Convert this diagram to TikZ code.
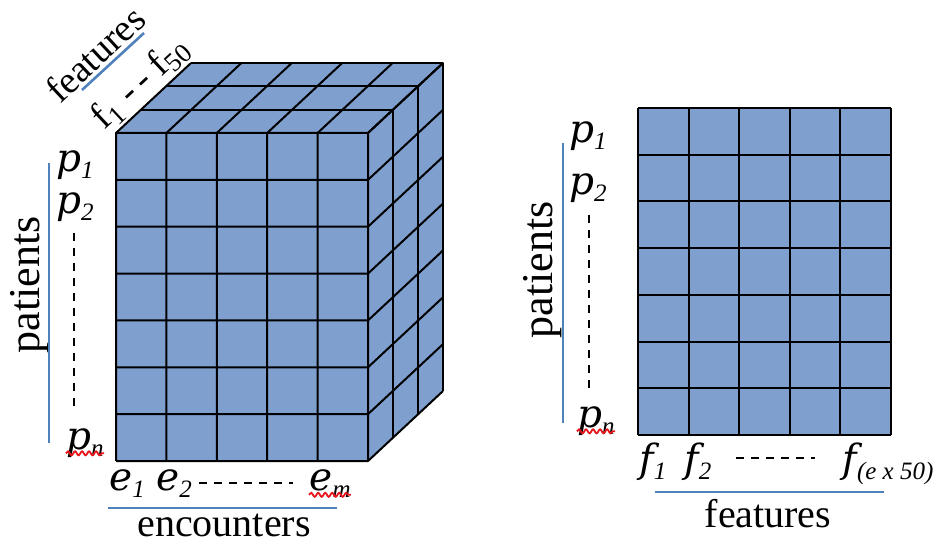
\documentclass[tikz,border=0pt]{standalone}
\usepackage{fontspec}
\setmainfont{Liberation Serif}
\newfontfamily\labfont{DejaVu Serif}
\usetikzlibrary{decorations.pathmorphing}
\definecolor{cellblue}{HTML}{7FA0CF}
\definecolor{lineblue}{HTML}{4F81BD}
\definecolor{squigred}{HTML}{E8141B}
\newcommand{\vlab}[2]{{\labfont\itshape #1}\raisebox{-0.4ex}{\fontsize{12.5}{12.5}\selectfont\itshape #2}}
\tikzset{
  cellfill/.style={fill=cellblue},
  gridline/.style={draw=black,line width=1pt,line join=round},
  axisline/.style={draw=lineblue,line width=1.3pt},
  word/.style={font=\fontsize{20}{24}\selectfont,inner sep=0pt},
  slantword/.style={font=\fontsize{19}{22}\selectfont,inner sep=0pt,rotate=43},
  tallword/.style={font=\fontsize{22}{26}\selectfont,inner sep=0pt},
  vlbl/.style={font=\fontsize{19.5}{22}\selectfont,inner sep=0pt},
  gapline/.style={draw=black,line width=0.9pt,dash pattern=on 4pt off 3.5pt},
  squig/.style={draw=squigred,line width=0.9pt,decorate,decoration={snake,amplitude=1pt,segment length=3.5pt}},
}

\begin{document}
\begin{tikzpicture}[x=0.5pt,y=-0.5pt]
  \useasboundingbox (0,0) rectangle (942,544);

  % cube: 5 encounters wide, 7 patients high, 3 features deep
  \fill[cellfill] (116,133) rectangle (368,461);
  \fill[cellfill] (116,133) -- (191,63) -- (443,63) -- (443,391) -- (368,461) -- (368,133) -- cycle;
  \foreach \i in {0,...,5}
    \draw[gridline] (116+\i*50.4,461) -- (116+\i*50.4,133) -- ++(75,-70);
  \foreach \j in {0,...,7}
    \draw[gridline] (116,133+\j*46.86) -- (368,133+\j*46.86) -- ++(75,-70);
  \foreach \k in {1,2,3}
    \draw[gridline] (116+\k*25,133-\k*23.33) -- ++(252,0) -- ++(0,328);

  % flat matrix
  \fill[cellfill] (638,108) rectangle (891,435);
  \foreach \i in {0,...,5}
    \draw[gridline] (638+\i*50.6,108) -- (638+\i*50.6,435);
  \foreach \j in {0,...,7}
    \draw[gridline] (638,108+\j*46.71) -- (891,108+\j*46.71);

  % cube labels
  \node[slantword] (featTop) at (95,54) {features};
  \coordinate (ftA) at (82,90);
  \coordinate (ftB) at (144,33);
  \draw[axisline] (ftA) -- (ftB);
  \node[slantword] (fRange) at (141,83) {f\textsubscript{1} -\,- f\textsubscript{50}};

  \node[tallword,rotate=90] (patL) at (30,285) {patients};
  \coordinate (paA) at (49,163);
  \coordinate (paB) at (49,443);
  \draw[axisline] (paA) -- (paB);
  \node[vlbl] (p1L) at (75,165) {\vlab{p}{1}};
  \node[vlbl] (p2L) at (75,207) {\vlab{p}{2}};
  \node[vlbl] (pnL) at (85,443) {\vlab{p}{n}};
  \coordinate (dTopL) at (74,233);
  \coordinate (dBotL) at (74,410);
  \draw[gapline] (dTopL) -- (dBotL);
  \draw[squig] ([yshift=-2pt]pnL.base west) -- ([yshift=-2pt]pnL.base east);

  \node[vlbl] (e1) at (127,484) {\vlab{e}{1}};
  \node[vlbl] (e2) at (174,484) {\vlab{e}{2}};
  \node[vlbl] (em) at (330,484) {\vlab{e}{m}};
  \coordinate (dE1) at (199,483);
  \coordinate (dE2) at (293,483);
  \draw[gapline] (dE1) -- (dE2);
  \draw[squig] ([yshift=-2pt]em.base west) -- ([yshift=-2pt]em.base east);
  \coordinate (enA) at (108,508);
  \coordinate (enB) at (337,508);
  \draw[axisline] (enA) -- (enB);
  \node[word] (enc) at (224,525) {encounters};

  % matrix labels
  \node[tallword,rotate=90] (patR) at (543,270) {patients};
  \coordinate (prA) at (563,143);
  \coordinate (prB) at (563,423);
  \draw[axisline] (prA) -- (prB);
  \node[vlbl] (p1R) at (588,136) {\vlab{p}{1}};
  \node[vlbl] (p2R) at (588,188) {\vlab{p}{2}};
  \node[vlbl] (pnR) at (596,421) {\vlab{p}{n}};
  \coordinate (dTopR) at (589,215);
  \coordinate (dBotR) at (589,390);
  \draw[gapline] (dTopR) -- (dBotR);
  \draw[squig] ([yshift=-2pt]pnR.base west) -- ([yshift=-2pt]pnR.base east);

  \node[vlbl] (f1) at (653,462) {\vlab{f}{1}};
  \node[vlbl] (f2) at (698,462) {\vlab{f}{2}};
  \node[vlbl] (fe) at (888,464) {\vlab{f}{(e x 50)}};
  \coordinate (dF1) at (736,458);
  \coordinate (dF2) at (815,458);
  \draw[gapline] (dF1) -- (dF2);
  \coordinate (frA) at (655,492);
  \coordinate (frB) at (884,492);
  \draw[axisline] (frA) -- (frB);
  \node[word] (featR) at (768,514) {features};
\end{tikzpicture}
\end{document}
